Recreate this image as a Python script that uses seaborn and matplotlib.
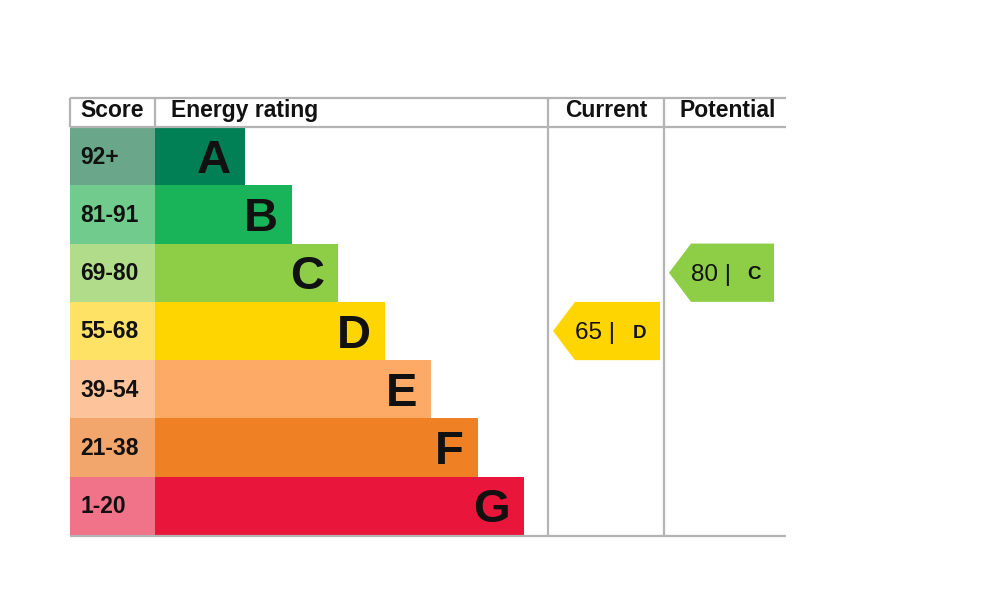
import matplotlib
matplotlib.use('Agg')
import matplotlib.pyplot as plt
import seaborn as sns
from matplotlib.patches import Polygon

# EPC bands, top to bottom
bands = ['A', 'B', 'C', 'D', 'E', 'F', 'G']
score_ranges = ['92+', '81-91', '69-80', '55-68', '39-54', '21-38', '1-20']
lower_bounds = [92, 81, 69, 55, 39, 21, 1]
bar_lengths = [90, 137, 183, 230, 276, 323, 369]
bar_colors = ['#008054', '#19b459', '#8dce46', '#ffd500', '#fcaa65', '#ef8023', '#e9153b']
score_colors = ['#69a68a', '#70cb8d', '#b1dd8a', '#fee266', '#fdc49b', '#f3a66b', '#f0738a']
current_score = 65
potential_score = 80

W, H = 987, 599
sns.set_style('white')
plt.rcParams['font.family'] = ['Liberation Sans', 'DejaVu Sans']
INK = '#111111'
GRID = '#b4b4b4'

fig = plt.figure(figsize=(W / 100, H / 100), dpi=100)


def px_axes(x0, y0, x1, y1):
    ax = fig.add_axes([x0 / W, 1 - y1 / H, (x1 - x0) / W, (y1 - y0) / H])
    ax.set_axis_off()
    ax.patch.set_alpha(0)
    return ax


def band_index(score):
    for i, lb in enumerate(lower_bounds):
        if score >= lb:
            return i
    return len(bands) - 1


TOP, HEAD, BOT = 98, 127, 535
L, S, C1, C2, R = 70, 155, 548, 664, 786
ROW = (BOT - HEAD) / len(bands)

# score column
sax = px_axes(L, HEAD, S, BOT)
sns.barplot(x=[1] * len(bands), y=bands, hue=bands, palette=score_colors, width=1,
            saturation=1, linewidth=0, legend=False, ax=sax)
sax.set_xlim(0, 1)
sax.set_ylim(len(bands) - 0.5, -0.5)
sax.set_axis_off()
for i, lab in enumerate(score_ranges):
    sax.text(10 / (S - L), i + 7.5 / ROW, lab, ha='left', va='baseline',
             fontsize=16.5, fontweight='bold', color=INK)

# rating bars
bax = px_axes(S, HEAD, C1, BOT)
sns.barplot(x=bar_lengths, y=bands, hue=bands, palette=bar_colors, width=1,
            saturation=1, linewidth=0, legend=False, ax=bax)
bax.set_xlim(0, C1 - S)
bax.set_ylim(len(bands) - 0.5, -0.5)
bax.set_axis_off()
for i, (b, w) in enumerate(zip(bands, bar_lengths)):
    bax.text(w - 14, i + 16.5 / ROW, b, ha='right', va='baseline',
             fontsize=34, fontweight='bold', color=INK)

# current / potential arrows
aax = px_axes(C1, HEAD, R, BOT)
aax.set_xlim(0, R - C1)
aax.set_ylim(len(bands) - 0.5, -0.5)
for score, x0, right in [(current_score, 5, 112), (potential_score, C2 - C1 + 5, 226)]:
    i = band_index(score)
    notch = x0 + 22
    aax.add_patch(Polygon([(x0, i), (notch, i - 0.5), (right, i - 0.5),
                           (right, i + 0.5), (notch, i + 0.5)],
                          closed=True, facecolor=bar_colors[i], edgecolor='none'))
    aax.text(notch, i + 8.5 / ROW, f'{score} |', ha='left', va='baseline',
             fontsize=17.5, color=INK)
    aax.text(right - 20, i + 6.5 / ROW, bands[i], ha='center', va='baseline',
             fontsize=13.5, fontweight='bold', color=INK)

# table frame and headers
ax = px_axes(0, 0, W, H)
ax.set_xlim(0, W)
ax.set_ylim(H, 0)
lw = 1.6
for y in (TOP, HEAD, BOT + 1):
    ax.plot([L, R], [y, y], color=GRID, lw=lw, solid_capstyle='butt')
for x in (L, S):
    ax.plot([x, x], [TOP, HEAD], color=GRID, lw=lw, solid_capstyle='butt')
for x in (C1, C2):
    ax.plot([x, x], [TOP, BOT + 1], color=GRID, lw=lw, solid_capstyle='butt')

hkw = dict(va='baseline', fontsize=16.5, fontweight='bold', color=INK)
ax.text((L + S) / 2, 117, 'Score', ha='center', **hkw)
ax.text(171, 117, 'Energy rating', ha='left', **hkw)
ax.text((C1 + C2) / 2, 117, 'Current', ha='center', **hkw)
ax.text(728, 117, 'Potential', ha='center', **hkw)

fig.savefig('out.png', dpi=100, facecolor='white')
